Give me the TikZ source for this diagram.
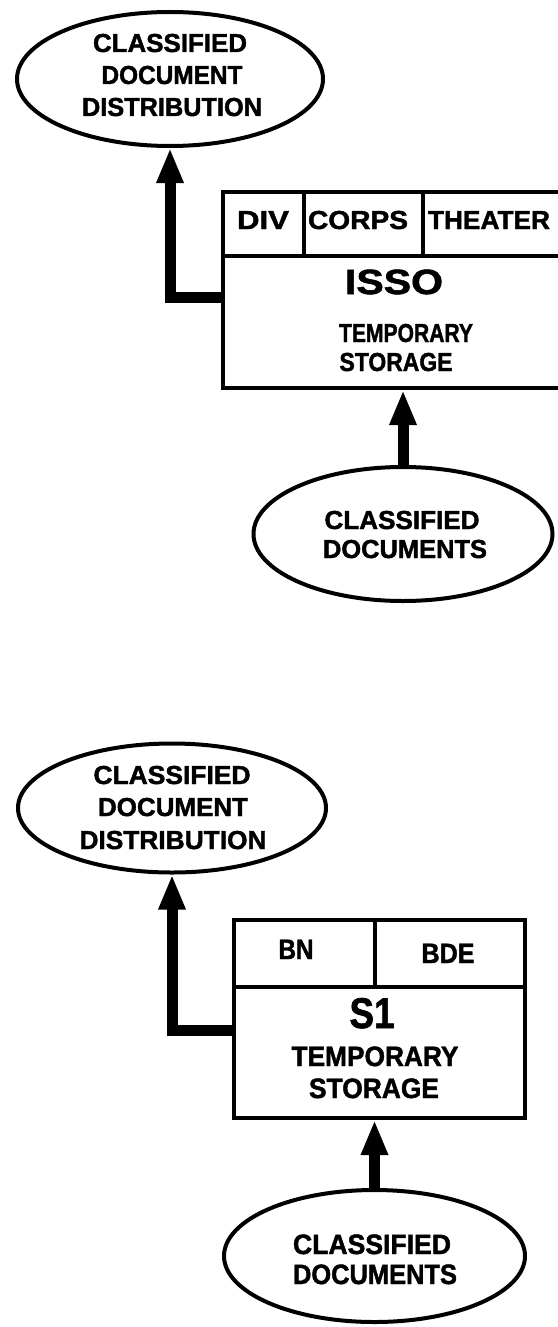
\documentclass[tikz,border=0pt]{standalone}
\usepackage{fontspec}
\usepackage{graphicx}
\setmainfont{Liberation Sans}[BoldFeatures={FakeBold=1.6}]
\usetikzlibrary{shapes.geometric,arrows.meta,calc}
\newcommand{\wtxt}[2]{\resizebox{#1}{\height}{#2}}
\tikzset{
  ell/.style={draw, line width=4pt, ellipse, inner sep=0pt},
  boxs/.style={draw, line width=4pt, rectangle, inner sep=0pt},
  divl/.style={line width=4pt},
  lbl/.style={anchor=base, inner sep=0pt},
  fa/.style={font=\fontsize{26pt}{26pt}\selectfont\bfseries},
  fb/.style={font=\fontsize{28pt}{28pt}\selectfont\bfseries},
  fc/.style={font=\fontsize{35pt}{35pt}\selectfont\bfseries},
  fd/.style={font=\fontsize{43pt}{43pt}\selectfont\bfseries},
  flow/.style={line width=11pt, line join=miter, -{Triangle[width=25pt,length=35pt]}},
}
\begin{document}
\begin{tikzpicture}[x=1pt,y=-1pt]
\useasboundingbox (0,0) rectangle (557,1327);

% ---------- top section ----------
\node[ell, minimum width=306pt, minimum height=134pt] (e1) at (170,79) {};
\node[lbl,fa] (e1a) at (170,52) {\wtxt{154pt}{CLASSIFIED}};
\node[lbl,fa] (e1b) at (172,84) {\wtxt{141pt}{DOCUMENT}};
\node[lbl,fa] (e1c) at (172,116) {\wtxt{180pt}{DISTRIBUTION}};

\node[boxs, minimum width=352pt, minimum height=196pt] (box1) at (399,290) {};
\draw[divl] (box1.west |- 0,256) -- (box1.east |- 0,256);
\draw[divl] (304,192) -- (304,256);
\draw[divl] (423,192) -- (423,256);
\node[lbl,fa] (div) at (263,229) {\wtxt{52pt}{DIV}};
\node[lbl,fa] (corps) at (358,229) {\wtxt{100pt}{CORPS}};
\node[lbl,fa] (theater) at (489,229) {\wtxt{122pt}{THEATER}};
\node[lbl,fc] (isso) at (394,294) {\wtxt{98pt}{ISSO}};
\node[lbl,fa] (temp1) at (406,342) {\wtxt{134pt}{TEMPORARY}};
\node[lbl,fa] (stor1) at (396,371) {\wtxt{113pt}{STORAGE}};

\node[ell, minimum width=299pt, minimum height=134pt] (e2) at (403,534) {};
\node[lbl,fa] (e2a) at (402,529) {\wtxt{155pt}{CLASSIFIED}};
\node[lbl,fa] (e2b) at (405,558) {\wtxt{164pt}{DOCUMENTS}};

\draw[flow] ($(box1.west)+(0,7)$) -| (e1.south);
\draw[flow] (e2.north) -- (e2.north |- box1.south);

% ---------- bottom section ----------
\node[ell, minimum width=308pt, minimum height=129pt] (e3) at (172,808) {};
\node[lbl,fa] (e3a) at (172,784) {\wtxt{157pt}{CLASSIFIED}};
\node[lbl,fa] (e3b) at (173,816) {\wtxt{150pt}{DOCUMENT}};
\node[lbl,fa] (e3c) at (173,849) {\wtxt{187pt}{DISTRIBUTION}};

\node[boxs, minimum width=291pt, minimum height=198pt] (box2) at (379.5,1019) {};
\draw[divl] (box2.west |- 0,986.5) -- (box2.east |- 0,986.5);
\draw[divl] (375,920) -- (375,986.5);
\node[lbl,fb] (bn) at (296,959) {\wtxt{35pt}{BN}};
\node[lbl,fb] (bde) at (448,963) {\wtxt{53pt}{BDE}};
\node[lbl,fd] (s1) at (372,1028) {\wtxt{45pt}{S1}};
\node[lbl,fb] (temp2) at (375,1066) {\wtxt{167pt}{TEMPORARY}};
\node[lbl,fb] (stor2) at (374,1098) {\wtxt{130pt}{STORAGE}};

\node[ell, minimum width=301pt, minimum height=132pt] (e4) at (374.5,1256) {};
\node[lbl,fb] (e4a) at (372,1254) {\wtxt{158pt}{CLASSIFIED}};
\node[lbl,fb] (e4b) at (375,1284) {\wtxt{164pt}{DOCUMENTS}};

\draw[flow] ($(box2.west)+(0,11)$) -| (e3.south);
\draw[flow] (e4.north) -- (e4.north |- box2.south);
\end{tikzpicture}
\end{document}
